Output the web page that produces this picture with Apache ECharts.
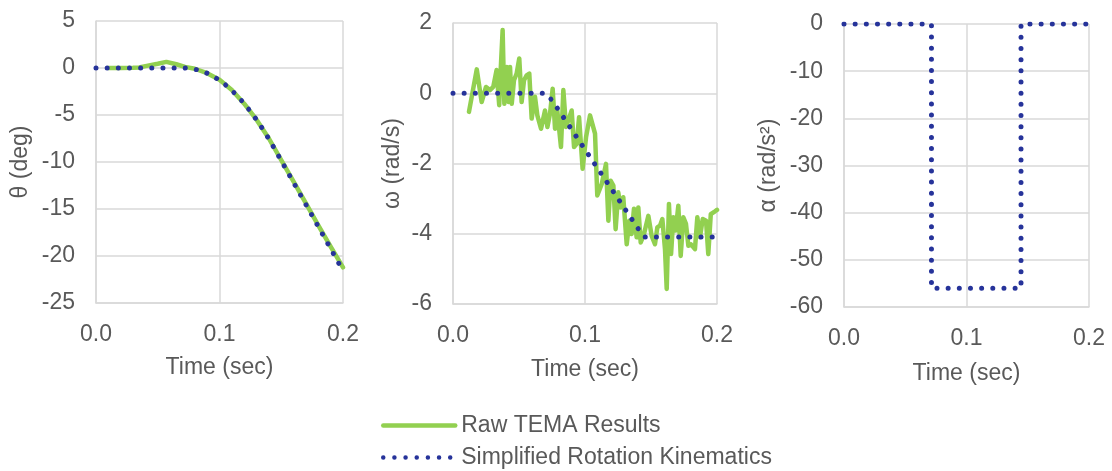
<!DOCTYPE html>
<html>
<head>
<meta charset="utf-8">
<script src="https://cdn.jsdelivr.net/npm/echarts@6/dist/echarts.min.js"></script>
<style>
html,body{margin:0;padding:0;background:#fff;}
#chart{width:1112px;height:471px;}
</style>
</head>
<body>
<div id="chart"></div>
<script>
// ---- data ----
const seriesNames = ['Raw TEMA Results', 'Simplified Rotation Kinematics'];
const xTickLabels = ['0.0', '0.1', '0.2'];
const yAxisNames = ['θ (deg)', 'ω (rad/s)', 'α (rad/s²)'];
const xAxisName = 'Time (sec)';

// simplified model sample times (s)
const simTime = [0,0.005,0.01,0.015,0.02,0.025,0.03,0.035,0.04,0.045,0.05,0.055,0.06,0.065,0.07,
  0.075,0.08,0.085,0.09,0.095,0.1,0.105,0.11,0.115,0.12,0.125,0.13,0.135,0.14,0.145,
  0.15,0.155,0.16,0.165,0.17,0.175,0.18,0.185,0.19,0.195,0.2];
const thetaSim = [0,0,0,0,0,0,0,0,0,0,0,0,0,0,0,
  -0.02,-0.12,-0.30,-0.56,-0.89,-1.31,-1.81,-2.39,-3.05,-3.79,-4.61,-5.51,-6.49,-7.55,-8.69,
  -9.86,-11.03,-12.20,-13.37,-14.54,-15.71,-16.88,-18.05,-19.23,-20.40,-21.57];
const omegaSim = [0,0,0,0,0,0,0,0,0,0,0,0,0,0,0,
  -0.20,-0.48,-0.76,-1.04,-1.32,-1.60,-1.88,-2.16,-2.44,-2.72,-3.00,-3.28,-3.56,-3.84,-4.09,
  -4.09,-4.09,-4.09,-4.09,-4.09,-4.09,-4.09,-4.09,-4.09,-4.09,-4.09];

// raw TEMA angle
const thetaRawTime = [0.01,0.02,0.03,0.035,0.04,0.05,0.057,0.065,0.072,0.08,0.09,0.1,0.11,0.12,0.13,0.14,0.15,0.16,0.17,0.18,0.19,0.2];
const thetaRaw = [0,0,0.02,0.05,0.2,0.45,0.65,0.4,0.12,-0.08,-0.55,-1.25,-2.35,-3.8,-5.5,-7.5,-9.8,-12.1,-14.4,-16.75,-19.0,-21.2];

// raw TEMA angular velocity
const omegaRawTime = [0.0121,0.018,0.0217,0.025,0.028,0.0305,0.033,0.035,0.036,0.0376,0.0389,0.0407,0.0422,0.0432,0.0445,
  0.0462,0.0482,0.0502,0.052,0.0538,0.0558,0.0578,0.0596,0.0621,0.0639,0.0667,0.0697,0.0715,0.0735,0.0755,
  0.0773,0.079,0.0818,0.0836,0.0856,0.0874,0.0899,0.0917,0.0937,0.0955,0.0982,0.1008,0.1038,0.1076,0.1093,
  0.1127,0.1159,0.1177,0.1194,0.1215,0.1232,0.1252,0.127,0.129,0.1316,0.1336,0.1353,0.1371,0.1391,0.1404,
  0.1422,0.1447,0.148,0.1505,0.153,0.1548,0.1568,0.1586,0.1606,0.1619,0.1636,0.1652,0.1669,0.1687,0.1707,
  0.1725,0.1745,0.1765,0.1783,0.1803,0.1833,0.1851,0.1871,0.1892,0.1917,0.1934,0.1953,0.1985,0.2];
const omegaRaw = [-0.53,0.68,-0.25,0.18,0.09,0.18,0.66,-0.34,0.56,1.8,-0.3,0.75,-0.25,0.75,-0.3,
  0.37,0.56,0.99,-0.25,0.37,0.51,0.56,-0.72,-0.1,-0.63,-1.01,-0.49,-0.96,-0.58,0.13,
  -1.01,-0.49,-1.53,0.09,-0.96,-0.77,-0.49,-1.53,-1.44,-0.68,-2.15,-1.25,-0.63,-1.15,-2.91,
  -2.58,-2.01,-3.63,-2.49,-2.63,-3.87,-2.82,-3.25,-2.96,-4.30,-3.63,-4.01,-3.29,-4.10,-3.25,
  -4.25,-4.01,-3.49,-4.06,-4.30,-3.82,-3.77,-3.58,-4.44,-5.57,-3.15,-4.58,-3.53,-3.91,-3.2,
  -4.63,-3.53,-3.72,-4.34,-4.30,-4.44,-3.53,-4.10,-3.58,-3.63,-4.58,-3.44,-3.36,-3.32];

// simplified angular acceleration (step profile)
const alphaTime = [0,0.0714,0.0714,0.1445,0.1445,0.2];
const alphaSim = [0,0,-56,-56,0,0];

// y-axis ranges
const yMins = [-25,-6,-60];
const yMaxs = [5,2,0];
const yIntervals = [5,2,10];

// ---- chart ----
const zip = (xs, ys) => xs.map((x, i) => [x, ys[i]]);
const FONT = "'Liberation Sans', Arial, sans-serif";
const TXT = '#595959';
const GRIDC = '#d9d9d9';
const GREEN = '#92d050';
const BLUE = '#26339a';
const FS = 23;

const grids = [
  {left: 96, top: 21, width: 247, height: 282},
  {left: 453, top: 23, width: 264, height: 281},
  {left: 844, top: 24, width: 245, height: 283}
];
const yGaps = [64, 49, 64];
const xNameGaps = [53, 54, 55];

const xAxes = grids.map((g, i) => ({
  type: 'value', gridIndex: i, min: 0, max: 0.2, interval: 0.1,
  name: xAxisName, nameLocation: 'middle', nameGap: xNameGaps[i],
  nameTextStyle: {color: TXT, fontSize: FS, fontFamily: FONT, verticalAlign: 'top'},
  axisLine: {show: true, onZero: false, lineStyle: {color: GRIDC, width: 1.5}},
  axisTick: {show: false},
  axisLabel: {color: TXT, fontSize: FS, fontFamily: FONT, margin: 20,
    formatter: v => xTickLabels[Math.round(v * 10)]},
  splitLine: {show: true, lineStyle: {color: GRIDC, width: 1.5}}
}));
const yAxes = grids.map((g, i) => ({
  type: 'value', gridIndex: i, min: yMins[i], max: yMaxs[i], interval: yIntervals[i],
  name: yAxisNames[i], nameLocation: 'middle', nameGap: yGaps[i],
  nameTextStyle: {color: TXT, fontSize: FS, fontFamily: FONT},
  axisLine: {show: true, onZero: false, lineStyle: {color: GRIDC, width: 1.5}},
  axisTick: {show: false},
  axisLabel: {color: TXT, fontSize: FS, fontFamily: FONT, margin: 21},
  splitLine: {show: true, lineStyle: {color: GRIDC, width: 1.5}}
}));

const greenStyle = {color: GREEN, width: 4.5, cap: 'round', join: 'round'};
const blueStyle = {color: BLUE, width: 5, type: [0.01, 11.15], cap: 'round', join: 'round'};

const series = [
  {name: seriesNames[0], type: 'line', xAxisIndex: 0, yAxisIndex: 0, data: zip(thetaRawTime, thetaRaw),
    symbol: 'none', lineStyle: greenStyle, itemStyle: {color: GREEN}, z: 2, animation: false},
  {name: seriesNames[0], type: 'line', xAxisIndex: 1, yAxisIndex: 1, data: zip(omegaRawTime, omegaRaw),
    symbol: 'none', lineStyle: greenStyle, itemStyle: {color: GREEN}, z: 2, animation: false},
  {name: seriesNames[1], type: 'line', xAxisIndex: 0, yAxisIndex: 0, data: zip(simTime, thetaSim),
    symbol: 'none', lineStyle: blueStyle, itemStyle: {color: BLUE}, z: 3, animation: false},
  {name: seriesNames[1], type: 'line', xAxisIndex: 1, yAxisIndex: 1, data: zip(simTime, omegaSim),
    symbol: 'none', lineStyle: blueStyle, itemStyle: {color: BLUE}, z: 3, animation: false},
  {name: seriesNames[1], type: 'line', xAxisIndex: 2, yAxisIndex: 2, data: zip(alphaTime, alphaSim),
    symbol: 'none', lineStyle: blueStyle, itemStyle: {color: BLUE}, z: 3, animation: false}
];

const chart = echarts.init(document.getElementById('chart'), null, {renderer: 'canvas'});
chart.setOption({
  backgroundColor: '#fff',
  animation: false,
  textStyle: {fontFamily: FONT},
  grid: grids,
  xAxis: xAxes,
  yAxis: yAxes,
  legend: {
    data: seriesNames, orient: 'vertical', left: 381, top: 414, height: 80, width: 500,
    itemWidth: 72, itemHeight: 20, itemGap: 9, padding: 0,
    selectedMode: false,
    itemStyle: {opacity: 0},
    lineStyle: {width: 4.5},
    textStyle: {color: TXT, fontSize: FS, fontFamily: FONT, padding: [0, 0, 0, 1]}
  },
  series: series
});
</script>
</body>
</html>
